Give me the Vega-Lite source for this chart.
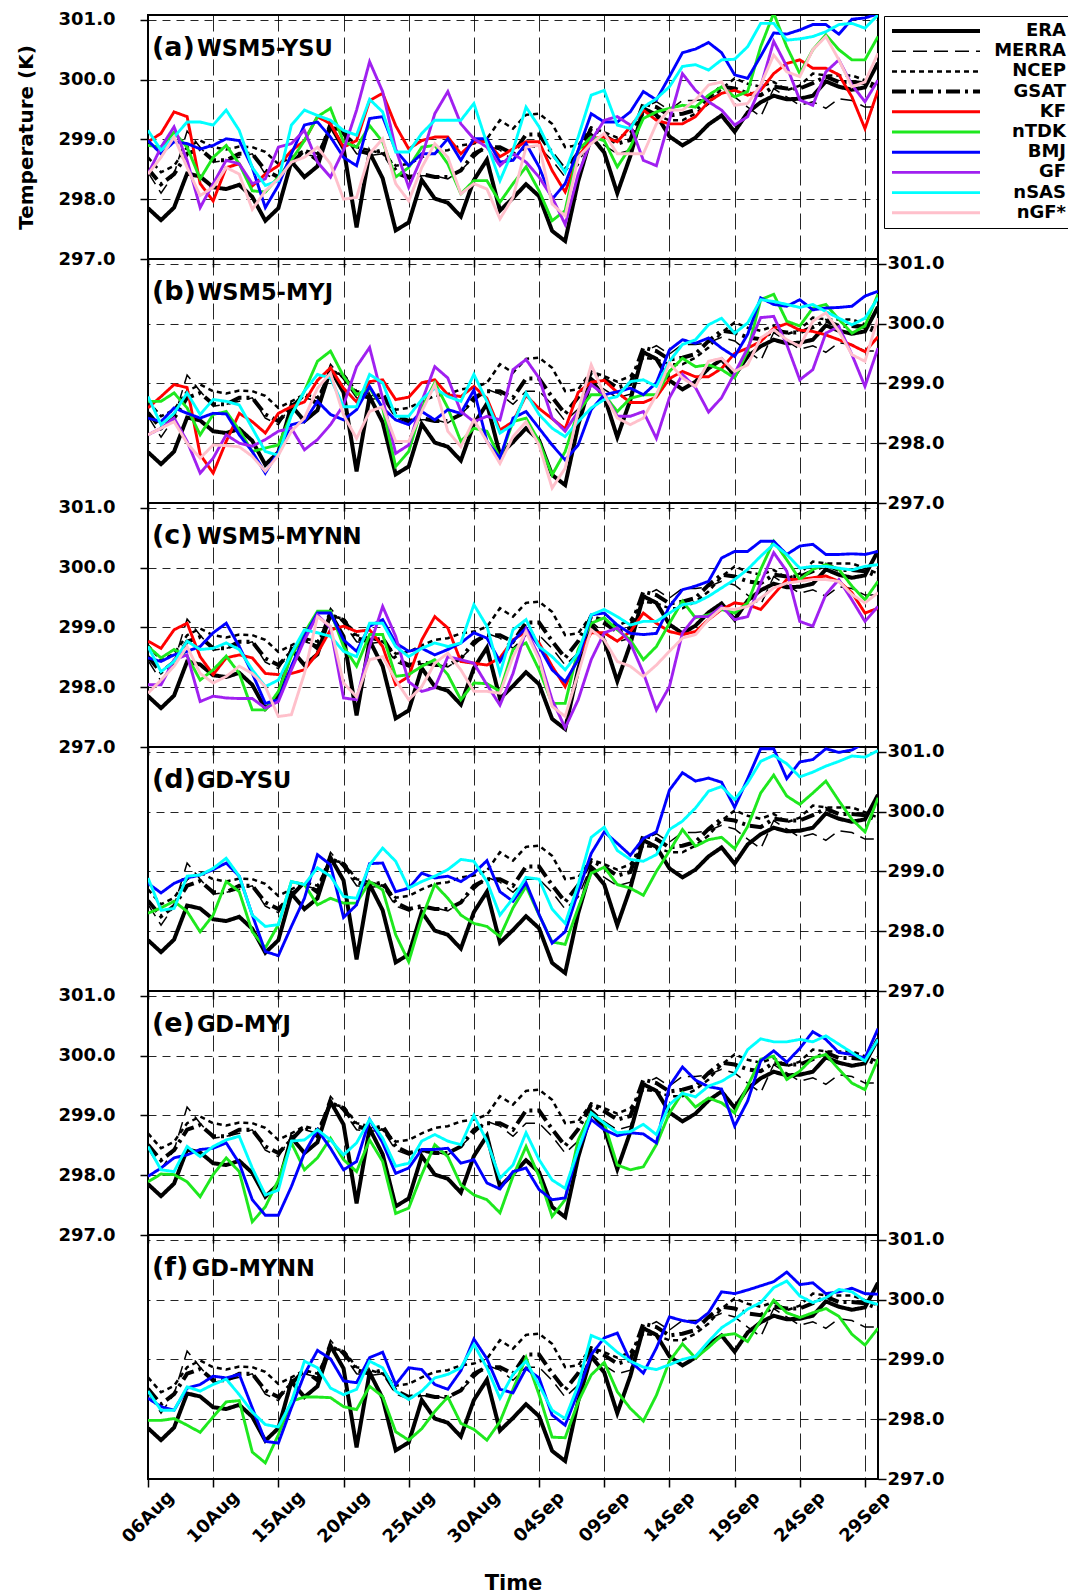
{
  "$schema": "https://vega.github.io/schema/vega-lite/v6.json",
  "background": "white",
  "padding": {"left": 15, "top": 9, "right": 0, "bottom": 0},
  "data": {
    "values": [
      {"p": "obs", "s": "ERA", "v": [297.85,297.65,297.86,298.43,298.38,298.2,298.17,298.24,298.04,297.64,297.85,298.63,298.37,298.55,299.23,298.85,297.53,298.78,298.35,297.48,297.61,298.32,298.01,297.94,297.71,298.32,298.66,297.81,298.02,298.25,298.05,297.47,297.3,298.3,299.05,298.78,298.1,298.72,299.52,299.41,299.05,298.9,299.03,299.25,299.4,299.13,299.45,299.62,299.73,299.67,299.68,299.73,299.97,299.88,299.83,299.87,300.28]},
      {"p": "obs", "s": "MERRA", "v": [298.45,298.1,298.42,299.14,298.87,298.62,298.65,298.7,298.76,298.42,298.31,298.65,298.76,298.7,299.32,299.07,298.76,298.73,298.76,298.42,298.34,298.39,298.39,298.34,298.48,298.7,298.9,298.82,298.65,298.87,298.87,298.65,298.37,298.57,299.1,298.9,298.76,298.82,299.52,299.63,299.49,299.65,299.65,299.68,299.77,299.71,299.54,299.38,299.85,299.71,299.57,299.63,299.52,299.68,299.65,299.54,299.54]},
      {"p": "obs", "s": "NCEP", "v": [298.7,298.45,298.56,298.87,298.98,298.87,298.83,298.88,298.87,298.79,298.59,298.7,298.82,298.76,299.18,299.15,298.87,298.82,298.76,298.56,298.59,298.7,298.79,298.82,298.9,298.93,299.01,299.32,299.18,299.41,299.43,299.26,298.87,298.9,299.2,299.12,299.03,299.12,299.43,299.4,299.32,299.32,299.43,299.6,299.85,300.02,299.93,299.88,299.96,299.82,299.9,300.1,300.07,300.07,300.07,299.99,299.9]},
      {"p": "obs", "s": "GSAT", "v": [298.51,298.25,298.42,298.76,298.84,298.65,298.65,298.76,298.76,298.48,298.37,298.59,298.82,298.65,299.21,299.12,298.82,298.76,298.82,298.48,298.37,298.42,298.37,298.37,298.48,298.76,298.87,298.87,298.76,299.08,299.08,298.77,298.49,298.77,299.18,299.07,298.93,298.99,299.6,299.54,299.4,299.43,299.49,299.71,299.88,299.85,299.77,299.74,299.88,299.85,299.85,299.94,300.05,299.96,299.96,299.94,299.85]},

      {"p": "a", "s": "KF", "v": [298.96,299.1,299.46,299.38,298.26,297.97,298.53,298.59,298.22,298.42,298.56,298.81,298.98,299.38,299.26,298.87,298.98,299.65,299.77,299.23,298.84,298.98,299.04,299.04,298.76,298.96,298.96,298.71,298.84,298.96,298.96,298.48,298.12,298.71,299.01,299.04,298.96,299.21,299.49,299.32,299.26,299.26,299.38,299.63,299.77,299.82,299.74,299.82,300.1,300.27,300.33,300.19,300.19,300.08,299.71,299.18,299.82]},
      {"p": "a", "s": "nTDK", "v": [298.9,298.87,299.12,298.87,298.34,298.7,298.9,298.59,298.14,298.12,298.37,298.65,298.98,299.38,299.52,298.96,298.87,299.23,298.96,298.37,298.53,298.87,298.9,298.59,298.09,298.31,298.31,297.95,298.26,298.54,298.14,297.64,297.81,298.82,299.04,298.98,298.54,298.87,299.35,299.46,299.52,299.57,299.54,299.74,299.88,299.71,299.8,300.55,301.11,300.55,300.1,300.5,300.75,300.5,300.33,300.33,300.72]},
      {"p": "a", "s": "BMJ", "v": [298.98,298.76,298.96,298.93,298.84,298.9,299.01,298.98,298.53,297.86,298.23,298.76,299.24,299.29,299.04,298.7,298.56,299.35,299.38,298.82,298.56,298.76,298.76,299.01,298.65,299.01,299.01,298.62,298.65,298.93,298.54,298.0,298.26,298.82,299.43,299.29,299.29,299.46,299.8,299.66,300.05,300.45,300.51,300.62,300.45,300.08,300.02,300.39,300.78,300.76,300.83,300.92,300.92,300.76,301.01,301.03,301.1]},
      {"p": "a", "s": "GF", "v": [298.42,298.87,299.21,298.65,297.86,298.26,298.65,298.59,298.26,298.34,298.87,298.93,299.15,298.62,298.37,298.82,299.49,300.3,299.8,298.84,298.2,298.7,299.43,299.8,299.26,299.01,298.87,298.56,298.76,298.62,298.37,298.03,297.58,298.42,298.98,299.32,299.38,299.24,298.65,298.56,299.32,300.1,299.82,299.63,299.49,299.24,299.38,299.88,300.64,300.22,299.66,299.57,300.13,300.33,299.91,299.63,299.99]},
      {"p": "a", "s": "nSAS", "v": [299.15,298.82,299.04,299.29,299.29,299.24,299.49,299.15,298.53,298.23,298.31,299.24,299.49,299.4,299.32,299.15,299.07,299.67,299.46,298.79,298.79,299.1,299.32,299.32,299.32,299.6,298.93,298.31,298.82,299.54,299.21,298.76,298.45,299.04,299.74,299.82,299.24,299.18,299.54,299.68,299.88,300.22,300.25,300.16,300.33,300.34,300.55,300.94,300.94,300.66,300.68,300.72,300.8,300.92,300.94,300.86,301.08]},
      {"p": "a", "s": "nGF*", "v": [298.42,298.7,299.04,298.53,298.06,298.2,298.53,298.42,297.83,298.14,298.34,298.62,298.7,298.87,298.59,298.0,298.03,298.76,299.01,298.26,297.97,298.53,298.93,298.7,298.09,298.26,298.17,297.67,298.03,298.87,298.9,297.92,297.72,298.7,298.93,299.1,298.76,298.76,298.76,299.26,299.49,299.49,299.66,299.91,299.96,299.57,299.6,299.91,300.41,300.13,300.05,300.5,300.72,300.33,299.88,299.96,300.44]},

      {"p": "b", "s": "KF", "v": [298.59,298.78,298.98,298.93,297.81,297.5,298.03,298.5,298.36,298.17,298.5,298.61,298.69,299.05,299.26,298.92,298.69,299.03,299.06,298.73,298.77,299.01,299.06,298.81,298.78,298.95,298.75,298.22,298.36,298.8,298.58,298.41,298.24,298.85,299.02,299.05,298.85,298.68,298.68,298.77,299.08,299.2,299.11,299.11,299.25,299.5,299.59,299.7,299.92,300.0,299.89,299.87,299.81,299.73,299.64,299.53,299.78]},
      {"p": "b", "s": "nTDK", "v": [298.7,298.7,298.84,298.59,298.14,298.48,298.53,298.22,297.86,297.92,297.97,298.48,298.87,299.37,299.54,299.12,298.81,298.92,298.59,297.61,297.86,298.59,299.01,298.59,298.03,298.25,298.2,297.75,298.36,298.42,298.03,297.47,297.86,298.53,298.81,298.81,298.53,298.75,298.81,298.81,299.2,299.42,299.28,299.31,299.23,299.09,299.54,300.4,300.49,300.04,299.96,300.26,300.32,300.07,299.84,299.96,300.49]},
      {"p": "b", "s": "BMJ", "v": [298.42,298.36,298.59,298.5,298.42,298.5,298.49,298.14,297.86,297.5,297.86,298.31,298.36,298.7,298.48,298.39,298.56,298.95,298.59,298.39,298.31,298.53,298.39,298.56,298.5,298.89,298.03,297.75,298.42,298.53,298.25,297.97,297.72,297.97,298.56,298.81,298.86,298.92,298.81,299.01,299.56,299.73,299.67,299.76,299.59,299.45,299.82,300.43,300.32,300.29,300.4,300.23,300.26,300.27,300.29,300.46,300.54]},
      {"p": "b", "s": "GF", "v": [298.14,298.25,298.42,298.03,297.5,297.75,298.14,298.0,297.95,298.06,298.2,298.25,297.89,298.06,298.31,298.64,299.28,299.6,298.75,297.83,297.97,298.7,299.28,299.09,298.53,298.36,298.45,298.39,299.23,299.4,299.09,298.42,298.2,298.53,298.98,298.81,298.45,298.45,298.53,298.08,298.76,299.15,298.93,298.52,298.76,299.17,299.59,300.1,300.12,299.65,299.06,299.23,299.84,299.95,299.48,298.95,299.59]},
      {"p": "b", "s": "nSAS", "v": [298.78,298.31,298.5,298.84,298.48,298.73,298.7,298.64,298.25,297.86,297.8,298.47,298.87,299.15,299.09,298.61,298.61,299.15,299.01,298.45,298.45,298.73,298.92,298.78,298.7,299.15,298.7,298.17,298.31,298.84,298.48,298.25,298.11,298.36,298.59,298.73,298.78,299.03,299.06,298.95,299.37,299.65,299.73,299.98,300.09,299.84,300.01,300.4,300.37,300.32,300.27,300.32,300.2,300.09,299.98,300.09,300.43]},
      {"p": "b", "s": "nGF*", "v": [298.14,298.25,298.36,298.0,297.75,297.97,297.96,297.94,297.78,297.53,297.8,298.2,298.42,298.92,299.17,298.47,298.08,298.53,298.61,298.03,298.03,298.53,298.98,298.2,297.94,298.39,298.03,297.66,298.11,298.36,297.97,297.25,297.58,298.53,299.31,298.81,298.42,298.31,298.42,298.81,299.34,299.09,298.95,299.37,299.42,299.2,299.31,299.76,299.9,299.73,299.62,300.04,300.18,299.87,299.48,299.37,300.09]},

      {"p": "c", "s": "KF", "v": [298.77,298.65,298.96,299.07,298.51,298.21,298.49,298.54,298.49,298.23,298.21,298.23,298.29,298.57,298.96,299.02,298.93,298.96,298.68,298.04,298.18,298.79,299.18,298.99,298.43,298.4,298.37,298.49,298.79,298.93,298.74,298.35,298.01,298.51,298.91,298.91,298.77,298.93,299.24,299.07,298.93,298.88,298.93,299.13,299.3,299.41,299.38,299.3,299.55,299.8,299.8,299.83,299.86,299.77,299.58,299.24,299.32]},
      {"p": "c", "s": "nTDK", "v": [298.68,298.49,298.63,298.52,298.12,298.29,298.52,298.23,297.62,297.62,297.93,298.52,298.91,299.27,299.27,298.68,298.35,298.88,298.88,298.18,298.21,298.35,298.46,298.21,297.79,298.07,298.06,297.93,298.63,298.74,298.29,297.73,297.73,298.63,299.07,299.16,298.96,298.79,298.46,298.68,299.07,299.44,299.16,299.21,299.3,299.24,299.41,299.97,300.44,300.13,299.8,299.97,300.05,299.97,299.69,299.46,299.77]},
      {"p": "c", "s": "BMJ", "v": [298.49,298.43,298.54,298.6,298.68,298.91,299.07,298.68,298.23,297.73,297.79,298.35,298.85,299.24,299.24,298.79,298.6,299.02,299.13,298.74,298.6,298.65,298.54,298.63,298.74,298.91,298.82,298.43,298.77,298.99,298.68,298.29,298.09,298.46,299.21,299.24,299.04,298.9,298.88,298.9,299.35,299.63,299.69,299.77,300.16,300.27,300.27,300.44,300.44,300.22,300.36,300.39,300.22,300.22,300.23,300.22,300.27]},
      {"p": "c", "s": "GF", "v": [298.04,298.04,298.46,298.54,297.76,297.85,297.82,297.81,297.81,297.65,297.76,298.29,298.79,299.21,298.99,297.82,297.79,298.68,299.35,298.85,298.09,297.93,297.99,298.51,298.46,298.4,298.04,297.7,298.23,298.96,298.51,297.79,297.32,297.79,298.46,298.91,298.99,298.74,298.24,297.62,298.01,298.91,299.18,299.18,299.35,299.13,299.18,299.74,300.25,299.94,299.1,299.02,299.55,299.8,299.46,299.1,299.35]},
      {"p": "c", "s": "nSAS", "v": [298.68,298.26,298.43,298.77,298.63,298.65,298.74,298.63,298.29,298.01,298.12,298.57,298.96,298.91,298.85,298.6,298.51,299.07,299.07,298.68,298.51,298.65,298.74,298.68,298.74,299.38,299.02,298.23,298.96,299.13,298.68,298.51,298.29,298.57,299.21,299.3,299.18,299.04,299.1,299.1,299.24,299.38,299.41,299.52,299.66,299.8,299.97,300.19,300.39,300.22,299.99,300.02,300.02,299.99,299.96,300.02,300.05]},
      {"p": "c", "s": "nGF*", "v": [297.9,298.12,298.35,298.68,298.23,298.07,298.18,298.35,298.23,298.01,297.51,297.54,298.23,299.18,299.02,298.07,297.84,298.46,298.51,298.12,297.79,298.01,298.4,298.57,298.29,297.93,297.93,297.9,298.51,298.93,298.46,297.68,297.51,298.23,298.96,298.79,298.43,298.35,298.18,298.37,298.6,298.82,298.88,299.13,299.32,299.3,299.35,299.49,299.66,299.74,299.77,299.8,299.8,299.77,299.55,299.41,299.58]},

      {"p": "d", "s": "nTDK", "v": [298.3,298.39,298.5,298.33,297.99,298.27,298.83,298.66,297.99,297.72,298.11,298.83,298.78,298.44,298.55,298.47,298.47,298.83,298.69,297.94,297.49,298.22,298.78,298.55,298.27,298.13,298.08,297.91,298.39,298.75,298.27,297.82,297.78,298.39,298.97,299.07,298.78,298.72,298.6,299.0,299.34,299.7,299.42,299.53,299.57,299.38,299.75,300.31,300.61,300.26,300.12,300.31,300.51,300.18,299.87,299.66,300.23]},
      {"p": "d", "s": "BMJ", "v": [298.8,298.64,298.8,298.89,298.94,299.03,299.14,298.92,298.27,297.66,297.59,298.08,298.55,299.28,299.11,298.23,298.44,299.13,299.14,298.66,298.72,298.97,298.89,298.92,298.83,298.97,299.18,298.66,298.5,298.81,298.28,297.8,297.99,298.66,299.3,299.66,299.47,299.27,299.55,299.66,300.36,300.65,300.51,300.56,300.49,300.07,300.55,301.05,301.05,300.55,300.83,300.87,301.05,300.99,301.03,301.15,301.25]},
      {"p": "d", "s": "nSAS", "v": [298.89,298.35,298.38,298.92,298.94,299.05,299.22,298.92,298.27,298.08,298.11,298.83,298.78,299.06,298.92,298.58,298.55,299.11,299.39,299.17,298.72,298.83,298.92,299.03,299.2,299.17,298.83,298.27,298.55,298.9,298.87,298.37,298.13,298.78,299.57,299.74,299.35,299.2,299.17,299.28,299.7,299.84,300.06,300.34,300.42,300.2,300.48,300.84,300.94,300.8,300.58,300.66,300.76,300.84,300.93,300.91,301.02]},

      {"p": "e", "s": "nTDK", "v": [297.89,298.02,298.01,297.89,297.64,298.01,298.29,298.06,297.22,297.47,297.92,298.54,298.09,298.29,298.62,298.26,298.06,298.59,298.23,297.36,297.45,298.01,298.51,298.31,297.84,297.67,297.59,297.37,297.98,298.48,297.98,297.31,297.59,298.59,299.04,298.87,298.17,298.09,298.14,298.51,299.04,299.38,299.14,299.29,299.21,299.04,299.49,299.94,299.99,299.6,299.74,299.96,300.02,299.77,299.54,299.43,299.94]},
      {"p": "e", "s": "BMJ", "v": [297.98,298.12,298.29,298.34,298.43,298.45,298.54,298.2,297.59,297.33,297.33,297.81,298.37,298.76,298.45,298.09,298.23,298.93,298.54,298.03,298.12,298.43,298.43,298.45,298.2,298.26,297.87,297.77,298.06,298.12,297.76,297.59,297.62,298.43,298.93,298.76,298.66,298.71,298.69,298.54,299.49,299.81,299.59,299.48,299.44,298.82,299.24,299.91,300.08,299.89,300.12,300.4,300.27,300.05,300.02,299.96,300.45]},
      {"p": "e", "s": "nSAS", "v": [298.48,298.09,298.06,298.48,298.31,298.48,298.59,298.65,298.12,297.67,297.75,298.57,298.59,298.76,298.59,298.34,298.54,298.93,298.62,298.15,298.2,298.57,298.68,298.57,298.51,299.0,298.57,297.95,298.17,298.71,298.26,297.92,297.78,298.43,299.04,298.87,298.71,298.73,298.85,298.68,299.18,299.37,299.31,299.49,299.57,299.7,300.1,300.28,300.23,300.23,300.27,300.23,300.33,300.19,300.05,299.91,300.27]},

      {"p": "f", "s": "nTDK", "v": [297.98,297.98,298.01,297.9,297.78,298.04,298.29,298.31,297.45,297.27,297.74,298.3,298.37,298.37,298.36,298.21,298.16,298.55,298.38,297.79,297.65,297.84,298.13,298.37,297.93,297.83,297.65,297.96,298.5,299.03,298.41,297.7,297.69,298.29,298.74,298.95,298.46,298.18,297.97,298.4,298.97,299.26,299.02,299.2,299.4,299.43,299.3,299.65,299.99,299.78,299.7,299.78,299.85,299.72,299.42,299.24,299.52]},
      {"p": "f", "s": "BMJ", "v": [298.35,298.21,298.15,298.52,298.58,298.72,298.69,298.75,298.19,297.63,297.6,298.19,298.75,299.15,299.01,298.64,298.61,299.03,299.12,298.58,298.86,298.83,298.58,298.5,298.81,299.34,299.01,298.5,298.44,298.85,298.69,298.07,297.9,298.46,299.08,299.36,299.44,298.97,298.77,299.19,299.71,299.65,299.61,299.78,300.13,300.1,300.16,300.23,300.3,300.46,300.25,300.28,300.1,300.13,300.19,300.1,300.09]},
      {"p": "f", "s": "nSAS", "v": [298.47,298.15,298.15,298.54,298.47,298.58,298.67,298.41,298.12,297.91,297.87,298.29,298.97,298.86,298.52,298.41,298.5,298.97,298.86,298.47,298.33,298.47,298.69,298.75,298.86,299.25,298.86,298.35,298.75,298.97,298.57,298.15,298.01,298.57,299.4,299.31,299.12,298.97,298.87,298.83,298.91,299.0,299.05,299.3,299.53,299.67,299.84,299.95,300.2,300.31,300.06,299.95,300.03,300.17,300.13,299.98,299.92]}
    ]
  },
  "transform": [
    {"flatten": ["v"]},
    {"window": [{"op": "row_number", "as": "i"}], "groupby": ["p", "s"]}
  ],
  "spacing": 0,
  "bounds": "flush",
  "resolve": {"scale": {"color": "shared", "strokeDash": "shared", "strokeWidth": "shared"}},
  "vconcat": [
    {
      "width": 730, "height": 244,
      "layer": [
        {
          "transform": [{"filter": "datum.p === 'obs' || datum.p === 'a'"}],
          "mark": {"type": "line", "clip": true},
          "encoding": {
            "x": {"field": "i", "type": "quantitative", "scale": {"domain": [1, 57], "nice": false, "zero": false},
                  "axis": {"values": [1,6,11,16,21,26,31,36,41,46,51,56], "labels": false, "tickSize": 8, "grid": true, "gridDash": [16, 6], "title": null}},
            "y": {"field": "v", "type": "quantitative", "scale": {"domain": [297, 301.08], "nice": false, "zero": false},
                  "axis": {"orient": "left", "values": [297,298,299,300,301], "format": ".1f", "tickSize": 8, "labelPadding": 25, "grid": true, "gridDash": [8, 6], "title": "Temperature (K)", "titlePadding": 22}},
            "color": {"field": "s", "type": "nominal", "scale": {"domain": ["ERA","MERRA","NCEP","GSAT","KF","nTDK","BMJ","GF","nSAS","nGF*"], "range": ["#000000","#000000","#000000","#000000","#ff0000","#1ee81e","#0000ff","#a020f0","#00ffff","#ffc0cb"]}},
            "strokeDash": {"field": "s", "type": "nominal", "scale": {"domain": ["ERA","MERRA","NCEP","GSAT","KF","nTDK","BMJ","GF","nSAS","nGF*"], "range": [[1,0],[14,7],[5,4],[14,5,3,5],[1,0],[1,0],[1,0],[1,0],[1,0],[1,0]]}},
            "strokeWidth": {"field": "s", "type": "nominal", "scale": {"type": "ordinal", "domain": ["ERA","MERRA","NCEP","GSAT","KF","nTDK","BMJ","GF","nSAS","nGF*"], "range": [4,1.5,2.5,4,2.9,2.9,2.9,2.9,2.9,2.9]}}
          }
        },
        {"data": {"values": [{}]}, "mark": {"type": "text", "align": "left", "baseline": "alphabetic", "fontSize": 27, "fontWeight": "bold", "color": "black"},
         "encoding": {"x": {"datum": 1.3}, "y": {"datum": 300.4}, "text": {"value": "(a)"}}},
        {"data": {"values": [{}]}, "mark": {"type": "text", "align": "left", "baseline": "alphabetic", "fontSize": 22.5, "fontWeight": "bold", "color": "black"},
         "encoding": {"x": {"datum": 4.75}, "y": {"datum": 300.4}, "text": {"value": "WSM5-YSU"}}}
      ]
    },
    {
      "width": 730, "height": 244,
      "layer": [
        {
          "transform": [{"filter": "datum.p === 'obs' || datum.p === 'b'"}],
          "mark": {"type": "line", "clip": true},
          "encoding": {
            "x": {"field": "i", "type": "quantitative", "scale": {"domain": [1, 57], "nice": false, "zero": false},
                  "axis": {"values": [1,6,11,16,21,26,31,36,41,46,51,56], "labels": false, "tickSize": 8, "grid": true, "gridDash": [16, 6], "title": null}},
            "y": {"field": "v", "type": "quantitative", "scale": {"domain": [297, 301.08], "nice": false, "zero": false},
                  "axis": {"orient": "right", "values": [297,298,299,300,301], "format": ".1f", "tickSize": 8, "labelPadding": 1, "grid": true, "gridDash": [8, 6], "title": null}},
            "color": {"field": "s", "type": "nominal", "scale": {"domain": ["ERA","MERRA","NCEP","GSAT","KF","nTDK","BMJ","GF","nSAS","nGF*"], "range": ["#000000","#000000","#000000","#000000","#ff0000","#1ee81e","#0000ff","#a020f0","#00ffff","#ffc0cb"]}},
            "strokeDash": {"field": "s", "type": "nominal", "scale": {"domain": ["ERA","MERRA","NCEP","GSAT","KF","nTDK","BMJ","GF","nSAS","nGF*"], "range": [[1,0],[14,7],[5,4],[14,5,3,5],[1,0],[1,0],[1,0],[1,0],[1,0],[1,0]]}},
            "strokeWidth": {"field": "s", "type": "nominal", "scale": {"type": "ordinal", "domain": ["ERA","MERRA","NCEP","GSAT","KF","nTDK","BMJ","GF","nSAS","nGF*"], "range": [4,1.5,2.5,4,2.9,2.9,2.9,2.9,2.9,2.9]}}
          }
        },
        {"data": {"values": [{}]}, "mark": {"type": "text", "align": "left", "baseline": "alphabetic", "fontSize": 27, "fontWeight": "bold", "color": "black"},
         "encoding": {"x": {"datum": 1.3}, "y": {"datum": 300.4}, "text": {"value": "(b)"}}},
        {"data": {"values": [{}]}, "mark": {"type": "text", "align": "left", "baseline": "alphabetic", "fontSize": 22.5, "fontWeight": "bold", "color": "black"},
         "encoding": {"x": {"datum": 4.8}, "y": {"datum": 300.4}, "text": {"value": "WSM5-MYJ"}}}
      ]
    },
    {
      "width": 730, "height": 244,
      "layer": [
        {
          "transform": [{"filter": "datum.p === 'obs' || datum.p === 'c'"}],
          "mark": {"type": "line", "clip": true},
          "encoding": {
            "x": {"field": "i", "type": "quantitative", "scale": {"domain": [1, 57], "nice": false, "zero": false},
                  "axis": {"values": [1,6,11,16,21,26,31,36,41,46,51,56], "labels": false, "tickSize": 8, "grid": true, "gridDash": [16, 6], "title": null}},
            "y": {"field": "v", "type": "quantitative", "scale": {"domain": [297, 301.08], "nice": false, "zero": false},
                  "axis": {"orient": "left", "values": [297,298,299,300,301], "format": ".1f", "tickSize": 8, "labelPadding": 25, "grid": true, "gridDash": [8, 6], "title": null}},
            "color": {"field": "s", "type": "nominal", "scale": {"domain": ["ERA","MERRA","NCEP","GSAT","KF","nTDK","BMJ","GF","nSAS","nGF*"], "range": ["#000000","#000000","#000000","#000000","#ff0000","#1ee81e","#0000ff","#a020f0","#00ffff","#ffc0cb"]}},
            "strokeDash": {"field": "s", "type": "nominal", "scale": {"domain": ["ERA","MERRA","NCEP","GSAT","KF","nTDK","BMJ","GF","nSAS","nGF*"], "range": [[1,0],[14,7],[5,4],[14,5,3,5],[1,0],[1,0],[1,0],[1,0],[1,0],[1,0]]}},
            "strokeWidth": {"field": "s", "type": "nominal", "scale": {"type": "ordinal", "domain": ["ERA","MERRA","NCEP","GSAT","KF","nTDK","BMJ","GF","nSAS","nGF*"], "range": [4,1.5,2.5,4,2.9,2.9,2.9,2.9,2.9,2.9]}}
          }
        },
        {"data": {"values": [{}]}, "mark": {"type": "text", "align": "left", "baseline": "alphabetic", "fontSize": 27, "fontWeight": "bold", "color": "black"},
         "encoding": {"x": {"datum": 1.3}, "y": {"datum": 300.4}, "text": {"value": "(c)"}}},
        {"data": {"values": [{}]}, "mark": {"type": "text", "align": "left", "baseline": "alphabetic", "fontSize": 22.5, "fontWeight": "bold", "color": "black"},
         "encoding": {"x": {"datum": 4.75}, "y": {"datum": 300.4}, "text": {"value": "WSM5-MYNN"}}}
      ]
    },
    {
      "width": 730, "height": 244,
      "layer": [
        {
          "transform": [{"filter": "datum.p === 'obs' || datum.p === 'd'"}],
          "mark": {"type": "line", "clip": true},
          "encoding": {
            "x": {"field": "i", "type": "quantitative", "scale": {"domain": [1, 57], "nice": false, "zero": false},
                  "axis": {"values": [1,6,11,16,21,26,31,36,41,46,51,56], "labels": false, "tickSize": 8, "grid": true, "gridDash": [16, 6], "title": null}},
            "y": {"field": "v", "type": "quantitative", "scale": {"domain": [297, 301.08], "nice": false, "zero": false},
                  "axis": {"orient": "right", "values": [297,298,299,300,301], "format": ".1f", "tickSize": 8, "labelPadding": 1, "grid": true, "gridDash": [8, 6], "title": null}},
            "color": {"field": "s", "type": "nominal", "scale": {"domain": ["ERA","MERRA","NCEP","GSAT","KF","nTDK","BMJ","GF","nSAS","nGF*"], "range": ["#000000","#000000","#000000","#000000","#ff0000","#1ee81e","#0000ff","#a020f0","#00ffff","#ffc0cb"]}},
            "strokeDash": {"field": "s", "type": "nominal", "scale": {"domain": ["ERA","MERRA","NCEP","GSAT","KF","nTDK","BMJ","GF","nSAS","nGF*"], "range": [[1,0],[14,7],[5,4],[14,5,3,5],[1,0],[1,0],[1,0],[1,0],[1,0],[1,0]]}},
            "strokeWidth": {"field": "s", "type": "nominal", "scale": {"type": "ordinal", "domain": ["ERA","MERRA","NCEP","GSAT","KF","nTDK","BMJ","GF","nSAS","nGF*"], "range": [4,1.5,2.5,4,2.9,2.9,2.9,2.9,2.9,2.9]}}
          }
        },
        {"data": {"values": [{}]}, "mark": {"type": "text", "align": "left", "baseline": "alphabetic", "fontSize": 27, "fontWeight": "bold", "color": "black"},
         "encoding": {"x": {"datum": 1.3}, "y": {"datum": 300.4}, "text": {"value": "(d)"}}},
        {"data": {"values": [{}]}, "mark": {"type": "text", "align": "left", "baseline": "alphabetic", "fontSize": 22.5, "fontWeight": "bold", "color": "black"},
         "encoding": {"x": {"datum": 4.75}, "y": {"datum": 300.4}, "text": {"value": "GD-YSU"}}}
      ]
    },
    {
      "width": 730, "height": 244,
      "layer": [
        {
          "transform": [{"filter": "datum.p === 'obs' || datum.p === 'e'"}],
          "mark": {"type": "line", "clip": true},
          "encoding": {
            "x": {"field": "i", "type": "quantitative", "scale": {"domain": [1, 57], "nice": false, "zero": false},
                  "axis": {"values": [1,6,11,16,21,26,31,36,41,46,51,56], "labels": false, "tickSize": 8, "grid": true, "gridDash": [16, 6], "title": null}},
            "y": {"field": "v", "type": "quantitative", "scale": {"domain": [297, 301.08], "nice": false, "zero": false},
                  "axis": {"orient": "left", "values": [297,298,299,300,301], "format": ".1f", "tickSize": 8, "labelPadding": 25, "grid": true, "gridDash": [8, 6], "title": null}},
            "color": {"field": "s", "type": "nominal", "scale": {"domain": ["ERA","MERRA","NCEP","GSAT","KF","nTDK","BMJ","GF","nSAS","nGF*"], "range": ["#000000","#000000","#000000","#000000","#ff0000","#1ee81e","#0000ff","#a020f0","#00ffff","#ffc0cb"]}},
            "strokeDash": {"field": "s", "type": "nominal", "scale": {"domain": ["ERA","MERRA","NCEP","GSAT","KF","nTDK","BMJ","GF","nSAS","nGF*"], "range": [[1,0],[14,7],[5,4],[14,5,3,5],[1,0],[1,0],[1,0],[1,0],[1,0],[1,0]]}},
            "strokeWidth": {"field": "s", "type": "nominal", "scale": {"type": "ordinal", "domain": ["ERA","MERRA","NCEP","GSAT","KF","nTDK","BMJ","GF","nSAS","nGF*"], "range": [4,1.5,2.5,4,2.9,2.9,2.9,2.9,2.9,2.9]}}
          }
        },
        {"data": {"values": [{}]}, "mark": {"type": "text", "align": "left", "baseline": "alphabetic", "fontSize": 27, "fontWeight": "bold", "color": "black"},
         "encoding": {"x": {"datum": 1.3}, "y": {"datum": 300.4}, "text": {"value": "(e)"}}},
        {"data": {"values": [{}]}, "mark": {"type": "text", "align": "left", "baseline": "alphabetic", "fontSize": 22.5, "fontWeight": "bold", "color": "black"},
         "encoding": {"x": {"datum": 4.75}, "y": {"datum": 300.4}, "text": {"value": "GD-MYJ"}}}
      ]
    },
    {
      "width": 730, "height": 244,
      "layer": [
        {
          "transform": [{"filter": "datum.p === 'obs' || datum.p === 'f'"}],
          "mark": {"type": "line", "clip": true},
          "encoding": {
            "x": {"field": "i", "type": "quantitative", "scale": {"domain": [1, 57], "nice": false, "zero": false},
                  "axis": {"values": [1,6,11,16,21,26,31,36,41,46,51,56], "tickSize": 8, "grid": true, "gridDash": [16, 6],
                           "labelExpr": "['06Aug','10Aug','15Aug','20Aug','25Aug','30Aug','04Sep','09Sep','14Sep','19Sep','24Sep','29Sep'][(datum.value - 1) / 5]",
                           "labelAngle": -45, "labelAlign": "center", "labelBaseline": "middle", "labelPadding": 30,
                           "title": "Time", "titleFontSize": 21, "titlePadding": 26}},
            "y": {"field": "v", "type": "quantitative", "scale": {"domain": [297, 301.08], "nice": false, "zero": false},
                  "axis": {"orient": "right", "values": [297,298,299,300,301], "format": ".1f", "tickSize": 8, "labelPadding": 1, "grid": true, "gridDash": [8, 6], "title": null}},
            "color": {"field": "s", "type": "nominal", "scale": {"domain": ["ERA","MERRA","NCEP","GSAT","KF","nTDK","BMJ","GF","nSAS","nGF*"], "range": ["#000000","#000000","#000000","#000000","#ff0000","#1ee81e","#0000ff","#a020f0","#00ffff","#ffc0cb"]}},
            "strokeDash": {"field": "s", "type": "nominal", "scale": {"domain": ["ERA","MERRA","NCEP","GSAT","KF","nTDK","BMJ","GF","nSAS","nGF*"], "range": [[1,0],[14,7],[5,4],[14,5,3,5],[1,0],[1,0],[1,0],[1,0],[1,0],[1,0]]}},
            "strokeWidth": {"field": "s", "type": "nominal", "scale": {"type": "ordinal", "domain": ["ERA","MERRA","NCEP","GSAT","KF","nTDK","BMJ","GF","nSAS","nGF*"], "range": [4,1.5,2.5,4,2.9,2.9,2.9,2.9,2.9,2.9]}}
          }
        },
        {"data": {"values": [{}]}, "mark": {"type": "text", "align": "left", "baseline": "alphabetic", "fontSize": 27, "fontWeight": "bold", "color": "black"},
         "encoding": {"x": {"datum": 1.3}, "y": {"datum": 300.4}, "text": {"value": "(f)"}}},
        {"data": {"values": [{}]}, "mark": {"type": "text", "align": "left", "baseline": "alphabetic", "fontSize": 22.5, "fontWeight": "bold", "color": "black"},
         "encoding": {"x": {"datum": 4.35}, "y": {"datum": 300.4}, "text": {"value": "GD-MYNN"}}}
      ]
    }
  ],
  "config": {
    "font": "DejaVu Sans",
    "view": {"stroke": "black", "strokeWidth": 2},
    "axis": {
      "domain": false,
      "labelFont": "DejaVu Sans", "labelFontWeight": "bold", "labelFontSize": 18, "labelColor": "black",
      "titleFont": "DejaVu Sans", "titleFontWeight": "bold", "titleFontSize": 20, "titleColor": "black",
      "tickColor": "black", "tickWidth": 1.5,
      "gridColor": "black", "gridWidth": 1, "gridOpacity": 0.85
    },
    "legend": {
      "orient": "none", "legendX": 736, "legendY": 1,
      "title": null, "direction": "vertical",
      "strokeColor": "black", "fillColor": "white", "padding": 6,
      "symbolType": "stroke", "symbolSize": 7744, "clipHeight": 18, "rowPadding": 2.2,
      "labelAlign": "right", "labelOffset": 84, "labelLimit": 300,
      "labelFont": "DejaVu Sans", "labelFontWeight": "bold", "labelFontSize": 18, "labelColor": "black"
    }
  }
}
